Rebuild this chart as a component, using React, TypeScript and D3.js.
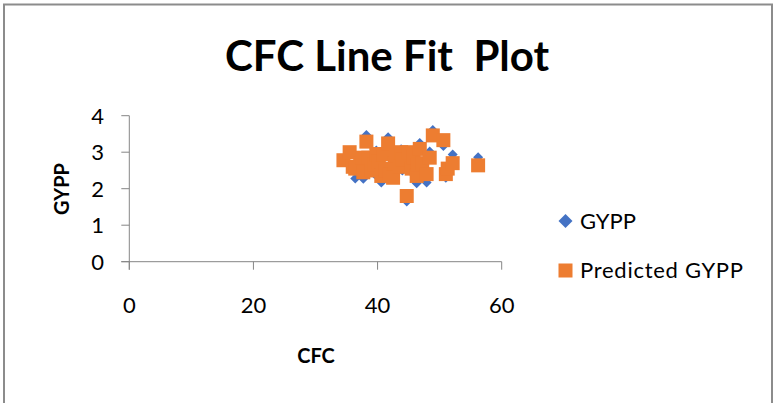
import React from "react";
import * as d3 from "d3";

const cfc = [34.5, 35.5, 36.0, 36.4, 37.2, 37.5, 37.7, 38.2, 38.5, 39.0, 39.5, 39.8, 40.2, 40.6, 40.8, 41.0, 41.3, 41.7, 42.0, 42.5, 42.8, 43.0, 43.5, 43.8, 44.0, 44.7, 45.0, 45.5, 45.8, 46.3, 46.5, 46.8, 47.2, 47.9, 48.4, 48.9, 50.6, 51.0, 51.3, 52.1, 56.2];
const gypp = [2.80, 2.95, 2.50, 2.28, 2.60, 2.70, 2.27, 3.47, 2.90, 2.70, 2.40, 3.05, 2.55, 2.17, 2.62, 2.85, 2.35, 3.41, 2.60, 2.30, 2.80, 3.00, 2.75, 3.08, 2.50, 1.65, 2.80, 2.45, 2.90, 2.15, 2.60, 3.25, 2.60, 2.17, 3.02, 3.61, 3.17, 2.30, 2.50, 2.94, 2.86];
const predicted = [2.78, 3.00, 2.60, 2.55, 2.70, 2.85, 2.45, 3.29, 2.85, 2.50, 2.65, 2.95, 2.75, 2.35, 2.55, 2.95, 2.50, 3.24, 2.40, 2.30, 2.70, 2.90, 2.60, 3.00, 2.80, 1.80, 3.00, 2.55, 2.85, 2.35, 2.65, 3.09, 2.70, 2.40, 2.85, 3.46, 3.33, 2.40, 2.55, 2.70, 2.64];
const xTicks = [0, 20, 40, 60];
const yTicks = [0, 1, 2, 3, 4];
const seriesNames = ["GYPP", "Predicted GYPP"];

const BLUE = "#4472C4";
const ORANGE = "#ED7D31";
const AXIS = "#868686";
const FONT = "Lato, 'Open Sans', sans-serif";

export default function App() {
  const x = d3.scaleLinear().domain([0, 60]).range([129.3, 501.7]);
  const y = d3.scaleLinear().domain([0, 4]).range([261.7, 115.7]);
  const diamond = (cx: number, cy: number, r: number) =>
    `M${cx},${cy - r}L${cx + r},${cy}L${cx},${cy + r}L${cx - r},${cy}Z`;

  return (
    <svg width={774} height={403} style={{ position: "absolute", left: 0, top: 0, background: "#fff" }} fontFamily={FONT}>
      <rect x={4} y={4.5} width={768} height={500} fill="#fff" stroke="#8c8c8c" strokeWidth={2} />
      <text x={387} y={71} textAnchor="middle" fontSize={42} fontWeight="bold" fill="#000" style={{ whiteSpace: "pre" }}>
        {"CFC Line Fit  Plot"}
      </text>
      {/* axes */}
      <line x1={x(0)} x2={x(0)} y1={y(4)} y2={y(0) + 8} stroke={AXIS} strokeWidth={1} />
      <line x1={x(0) - 8} x2={x(60)} y1={y(0)} y2={y(0)} stroke={AXIS} strokeWidth={1} />
      {yTicks.map((t) => (
        <g key={"y" + t}>
          <line x1={x(0) - 8} x2={x(0)} y1={y(t)} y2={y(t)} stroke={AXIS} />
          <text x={104} y={y(t)} dy="0.36em" textAnchor="end" fontSize={22} fill="#000">{t}</text>
        </g>
      ))}
      {xTicks.map((t) => (
        <g key={"x" + t}>
          <line x1={x(t)} x2={x(t)} y1={y(0)} y2={y(0) + 8} stroke={AXIS} />
          <text x={x(t)} y={305} dy="0.36em" textAnchor="middle" fontSize={22} fill="#000">{t}</text>
        </g>
      ))}
      <text x={316} y={356} dy="0.36em" textAnchor="middle" fontSize={20} fontWeight="bold">CFC</text>
      <text transform="translate(62,189) rotate(-90)" dy="0.36em" textAnchor="middle" fontSize={20} fontWeight="bold">GYPP</text>
      {/* series */}
      {cfc.map((c, i) => (
        <path key={"g" + i} d={diamond(x(c), y(gypp[i]), 5)} fill={BLUE} />
      ))}
      {cfc.map((c, i) => (
        <rect key={"p" + i} x={x(c) - 7} y={y(predicted[i]) - 7} width={14} height={14} fill={ORANGE} />
      ))}
      {/* legend */}
      <path d={diamond(565.5, 221, 7)} fill={BLUE} />
      <text x={580} y={221} dy="0.36em" fontSize={22}>{seriesNames[0]}</text>
      <rect x={558.5} y={263.5} width={14} height={14} fill={ORANGE} />
      <text x={580} y={270.5} dy="0.36em" fontSize={22} textLength={163} lengthAdjust="spacing">{seriesNames[1]}</text>
    </svg>
  );
}
